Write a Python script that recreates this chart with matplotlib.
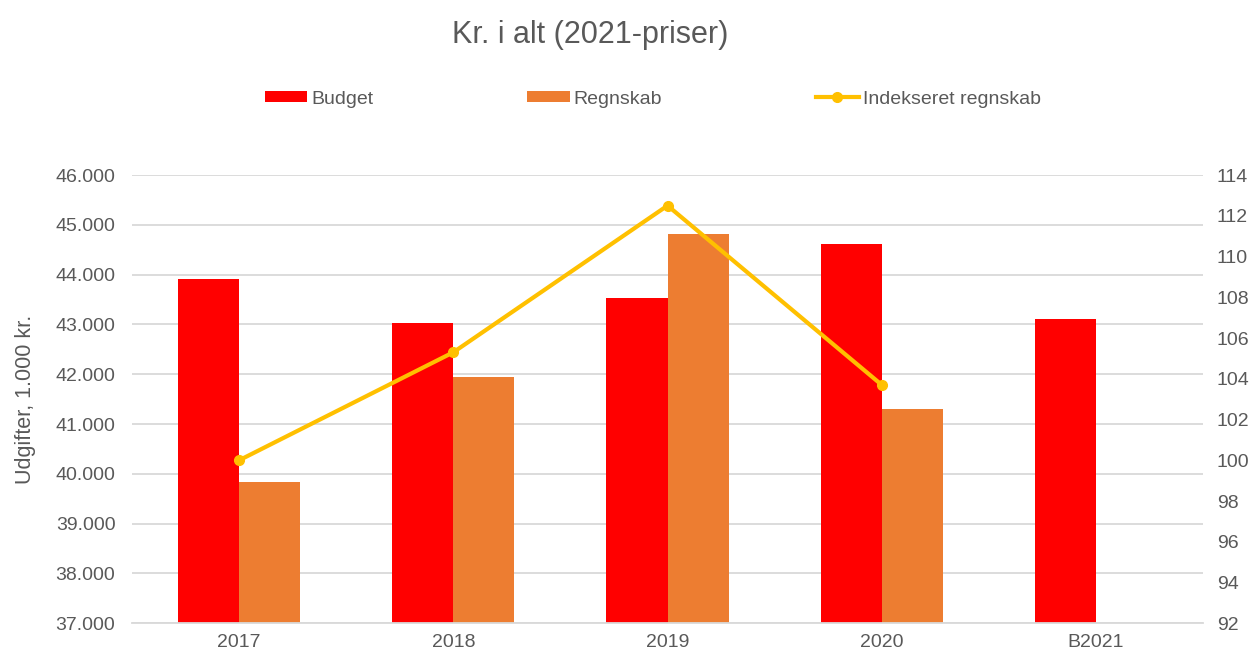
import matplotlib.pyplot as plt
import numpy as np
from matplotlib.ticker import FuncFormatter

plt.rcParams['font.family'] = ['Liberation Sans', 'DejaVu Sans']

#-----Data-----#
categories = ["2017", "2018", "2019", "2020", "B2021"]
budget = [43910, 43020, 43540, 44620, 43110]
regnskab = [39830, 41950, 44820, 41300, np.nan]
indeks = [100.0, 105.3, 112.5, 103.7]

txt = '#595959'
grid = '#D9D9D9'

#-----Plot-----#
fig = plt.figure(figsize=(12.55, 6.57), dpi=100)
ax = fig.add_axes([0.1052, 0.0513, 0.8534, 0.6823])
x = np.arange(len(categories))
w = 0.285

ax.bar(x - w/2, budget, width=w, color='#FF0000', label='Budget', zorder=2)
ax.bar(x + w/2, regnskab, width=w, color='#ED7D31', label='Regnskab', zorder=2)
ax.set_ylim(37000, 46000)
ax.set_yticks(np.arange(37000, 46001, 1000))
ax.yaxis.set_major_formatter(FuncFormatter(lambda v, p: f"{int(v):,}".replace(",", ".")))
ax.set_xlim(-0.5, len(categories) - 0.5)
ax.set_xticks(x)
ax.set_xticklabels(categories)
ax.grid(axis='y', color=grid, linewidth=1.3, zorder=0)
ax.set_axisbelow(True)
for s in ['top', 'left', 'right']:
    ax.spines[s].set_visible(False)
ax.spines['bottom'].set_color(grid)
ax.spines['bottom'].set_linewidth(1.3)
ax.tick_params(length=0, labelsize=14, labelcolor=txt, pad=8)
ax.tick_params(axis='y', pad=12)
ax.set_ylabel("Udgifter, 1.000 kr.", fontsize=15.5, color=txt, labelpad=14)

ax2 = ax.twinx()
ax2.plot(x[:len(indeks)], indeks, color='#FFC000', linewidth=3, marker='o',
         markersize=7, label='Indekseret regnskab', zorder=3)
ax2.set_ylim(92, 114)
ax2.set_yticks(np.arange(92, 115, 2))
for s in ax2.spines.values():
    s.set_visible(False)
ax2.tick_params(length=0, labelsize=14, labelcolor=txt, pad=10)

fig.suptitle("Kr. i alt (2021-priser)", x=0.47, y=0.97, fontsize=22, color=txt)

h1, l1 = ax.get_legend_handles_labels()
h2, l2 = ax2.get_legend_handles_labels()
fig.legend(h1 + h2, l1 + l2, loc='center', bbox_to_anchor=(0.52, 0.849), ncol=3,
           frameon=False, fontsize=14, labelcolor=txt, handlelength=2.2,
           handleheight=0.5, handletextpad=0.2, columnspacing=7.9)

fig.savefig("out.png", dpi=100)
